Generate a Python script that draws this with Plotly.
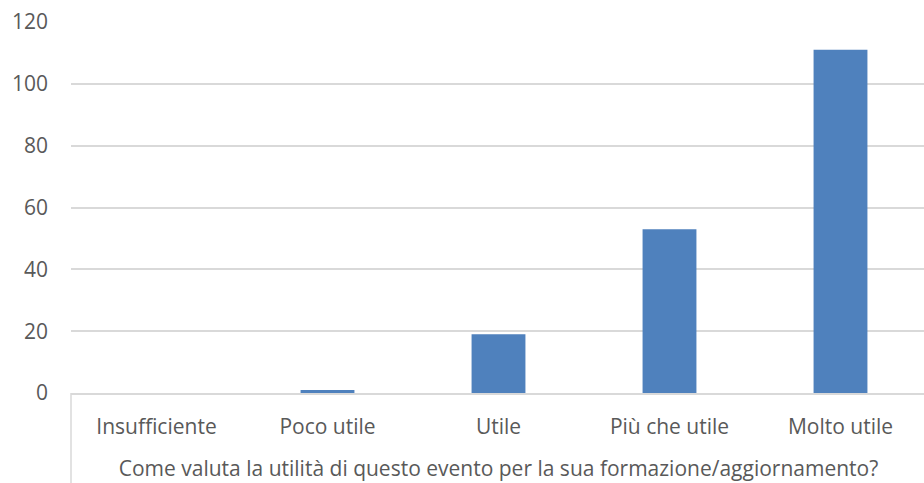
import plotly.graph_objects as go

categories = ["Insufficiente", "Poco utile", "Utile", "Più che utile", "Molto utile"]
values = [0, 1, 19, 53, 111]
y_ticks = [0, 20, 40, 60, 80, 100, 120]
x_title = "Come valuta la utilità di questo evento per la sua formazione/aggiornamento?"

FONT = "Open Sans"
TXT = "#595959"
FS = 21

fig = go.Figure(go.Bar(x=categories, y=values, marker=dict(color="#4F81BD", line=dict(width=0)), width=0.315))

fig.update_layout(
    width=926, height=483,
    margin=dict(l=71, r=0, t=22, b=90),
    paper_bgcolor="white", plot_bgcolor="white",
    showlegend=False,
    font=dict(family=FONT, color=TXT, size=FS),
    bargap=0.68,
)
fig.update_yaxes(
    range=[0, 120], tickvals=y_ticks, showgrid=True, gridcolor="#D9D9D9", gridwidth=1.5,
    zeroline=False, showline=False, ticks="", ticklabelstandoff=22, automargin=False,
    tickfont=dict(family=FONT, size=FS, color=TXT),
)
fig.update_xaxes(
    showline=True, linecolor="#D9D9D9", linewidth=1.5, ticks="", ticklabelstandoff=14,
    automargin=False,
    tickfont=dict(family=FONT, size=FS, color=TXT),
    title=dict(text=x_title, standoff=22, font=dict(family=FONT, size=FS, color=TXT)),
)
fig.add_shape(type="line", xref="paper", yref="paper", x0=0, x1=0, y0=0, y1=-90/371,
              line=dict(color="#D9D9D9", width=1.5))

fig.write_html("out.html", config={"displayModeBar": False},
               post_script="document.body.style.margin='0';document.body.style.overflow='hidden';")
